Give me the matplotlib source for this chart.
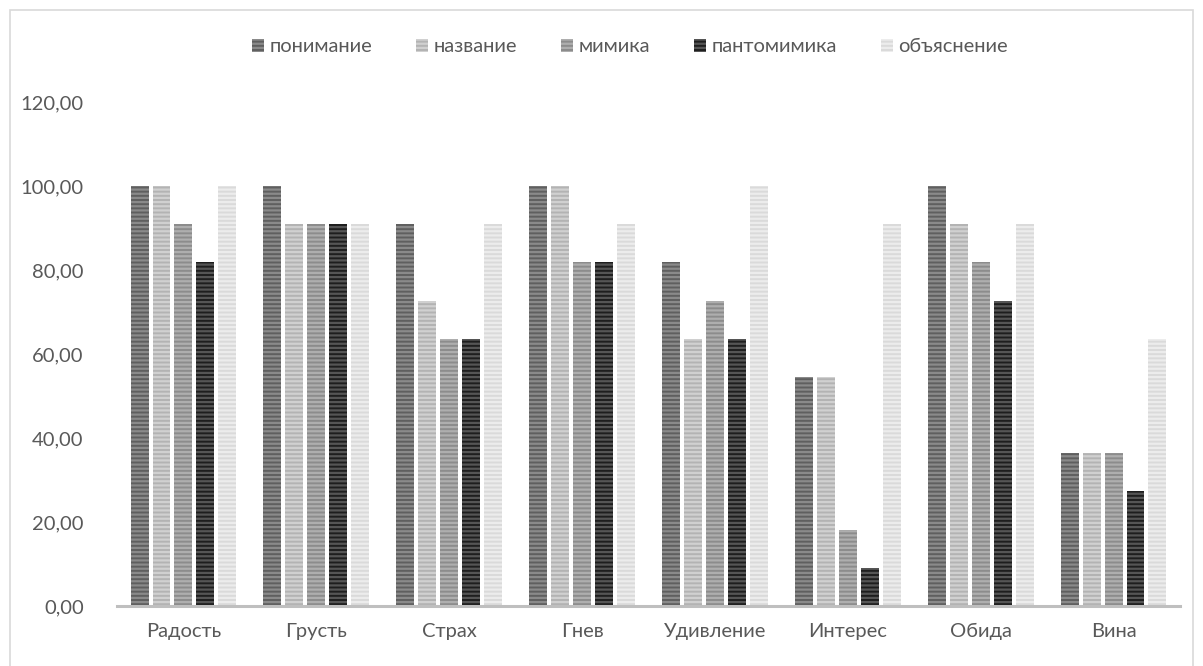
import numpy as np
import matplotlib.pyplot as plt
from matplotlib.patches import Rectangle

plt.rcParams['font.family'] = ['Lato', 'DejaVu Sans']
plt.rcParams['hatch.linewidth'] = 1.6

categories = ['Радость', 'Грусть', 'Страх', 'Гнев', 'Удивление', 'Интерес', 'Обида', 'Вина']
series = ['понимание', 'название', 'мимика', 'пантомимика', 'объяснение']

ponimanie = [100, 100, 90.91, 100, 81.82, 54.55, 100, 36.36]
nazvanie = [100, 90.91, 72.73, 100, 63.64, 54.55, 90.91, 36.36]
mimika = [90.91, 90.91, 63.64, 81.82, 72.73, 18.18, 81.82, 36.36]
pantomimika = [81.82, 90.91, 63.64, 81.82, 63.64, 9.09, 72.73, 27.27]
obyasnenie = [100, 90.91, 90.91, 90.91, 100, 90.91, 90.91, 63.64]

values = [ponimanie, nazvanie, mimika, pantomimika, obyasnenie]
# base colour, stripe colour
fills = ['#5f5f5f', '#b3b3b3', '#8c8c8c', '#1e1e1e', '#dadada']
stripes = ['#8a8a8a', '#d0d0d0', '#aeaeae', '#555555', '#ececec']

fig = plt.figure(figsize=(12.03, 6.66), dpi=100)
fig.patches.append(Rectangle((10/1203, -0.01), 1183/1203, 1 - 10/666 + 0.01,
                             transform=fig.transFigure, fill=False,
                             edgecolor='#d9d9d9', linewidth=1.2))
ax = fig.add_axes([117/1203, 60/666, 1063/1203, 504/666])

x = np.arange(len(categories))
w = 0.135
step = 0.165
for i, (name, vals) in enumerate(zip(series, values)):
    pos = x + (i - 2) * step
    ax.bar(pos, vals, width=w, color=fills[i], edgecolor=stripes[i],
           linewidth=0, hatch='----', label=name)

ax.set_xlim(-0.5, len(categories) - 0.5)
ax.set_ylim(0, 120)
ax.set_yticks(np.arange(0, 121, 20))
ax.yaxis.set_major_formatter(plt.FuncFormatter(lambda v, p: ('%.2f' % v).replace('.', ',')))
ax.set_xticks(x)
ax.set_xticklabels(categories)
ax.tick_params(length=0, labelsize=14.5, colors='#595959')
ax.tick_params(axis='x', pad=12)
ax.tick_params(axis='y', pad=24)
for s in ['top', 'right', 'left']:
    ax.spines[s].set_visible(False)
ax.spines['bottom'].set_color('#bfbfbf')
ax.spines['bottom'].set_linewidth(2.2)

leg = fig.legend(loc='center', bbox_to_anchor=(630/1203, 1 - 47/666), ncol=5,
                 frameon=False, fontsize=14.5, handlelength=0.6, handleheight=0.6,
                 handletextpad=0.25, columnspacing=2.2)
for t in leg.get_texts():
    t.set_color('#595959')

fig.savefig('out.png', dpi=100)
